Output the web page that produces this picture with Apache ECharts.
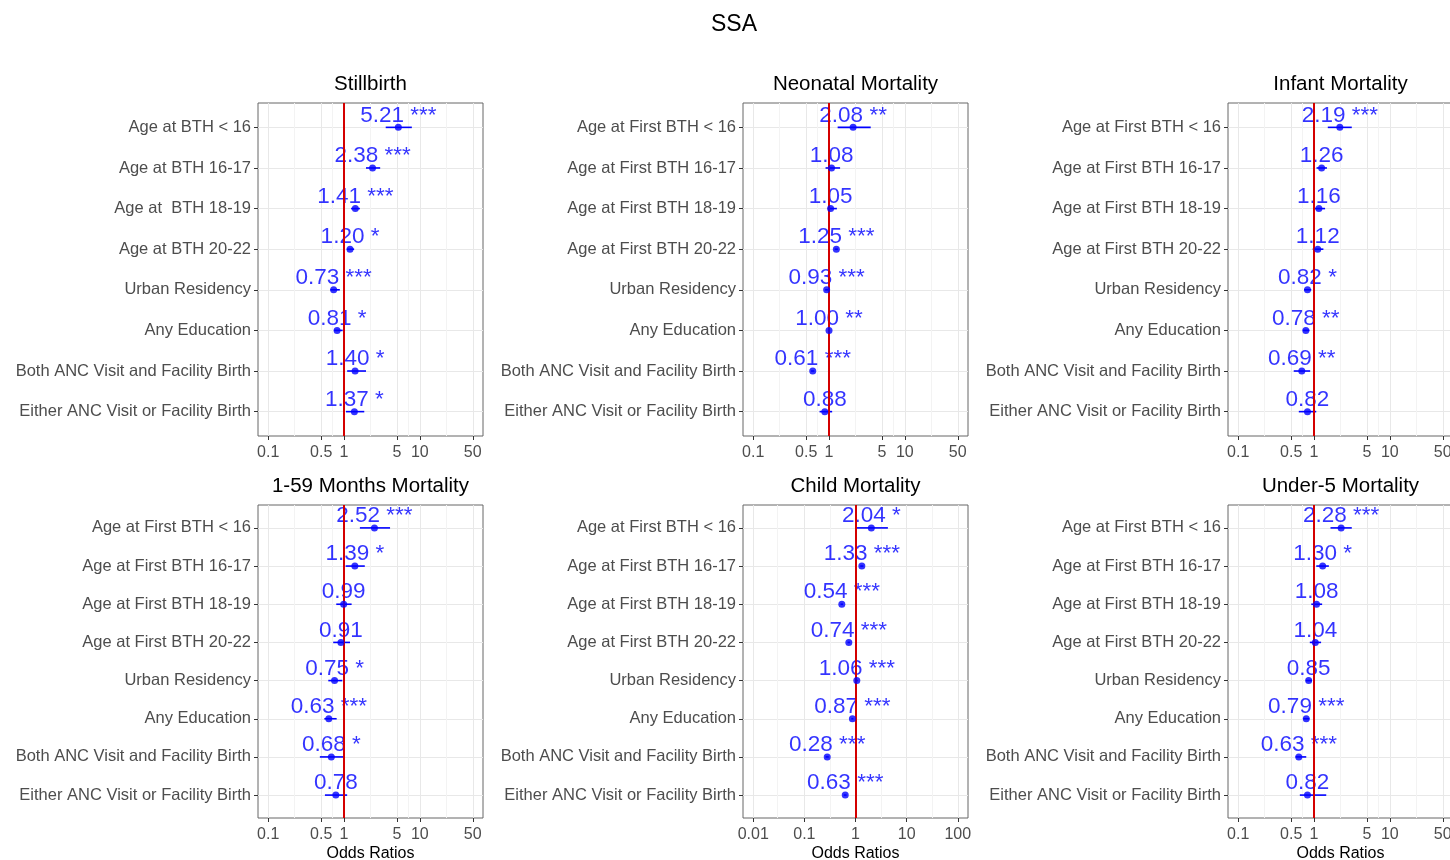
<!DOCTYPE html>
<html>
<head>
<meta charset="utf-8">
<script src="https://cdn.jsdelivr.net/npm/echarts@6/dist/echarts.min.js"></script>
<style>
html,body{margin:0;padding:0;background:#fff;}
#chart{width:1450px;height:860px;}
</style>
</head>
<body>
<div id="chart"></div>
<script>
// ---------- DATA ----------
const mainTitle = 'SSA';
const panelTitles = ['Stillbirth', 'Neonatal Mortality', 'Infant Mortality',
                     '1-59 Months Mortality', 'Child Mortality', 'Under-5 Mortality'];

const catsStillbirth = ['Age at BTH < 16', 'Age at BTH 16-17', 'Age at  BTH 18-19', 'Age at BTH 20-22',
  'Urban Residency', 'Any Education', 'Both ANC Visit and Facility Birth', 'Either ANC Visit or Facility Birth'];
const catsOther = ['Age at First BTH < 16', 'Age at First BTH 16-17', 'Age at First BTH 18-19', 'Age at First BTH 20-22',
  'Urban Residency', 'Any Education', 'Both ANC Visit and Facility Birth', 'Either ANC Visit or Facility Birth'];

const ticksA = ['0.1', '0.5', '1', '5', '10', '50'];
const ticksChild = ['0.01', '0.1', '1', '10', '100'];

// Stillbirth
const orStill = [5.21, 2.38, 1.41, 1.20, 0.73, 0.81, 1.40, 1.37];
const loStill = [3.55, 1.95, 1.24, 1.09, 0.66, 0.74, 1.10, 1.06];
const hiStill = [7.85, 3.00, 1.62, 1.36, 0.88, 0.96, 1.95, 1.85];
const sigStill = ['***', '***', '***', '*', '***', '*', '*', '*'];

// Neonatal
const orNeo = [2.08, 1.08, 1.05, 1.25, 0.93, 1.00, 0.61, 0.88];
const loNeo = [1.30, 0.90, 0.96, 1.19, 0.89, 0.97, 0.58, 0.75];
const hiNeo = [3.55, 1.40, 1.27, 1.31, 0.98, 1.03, 0.64, 1.10];
const sigNeo = ['**', '', '', '***', '***', '**', '***', ''];

// Infant
const orInf = [2.19, 1.26, 1.16, 1.12, 0.82, 0.78, 0.69, 0.82];
const loInf = [1.52, 1.08, 0.99, 0.96, 0.74, 0.71, 0.54, 0.63];
const hiInf = [3.15, 1.48, 1.40, 1.33, 0.92, 0.87, 0.89, 1.07];
const sigInf = ['***', '', '', '', '*', '**', '**', ''];

// 1-59 months
const orM159 = [2.52, 1.39, 0.99, 0.91, 0.75, 0.63, 0.68, 0.78];
const loM159 = [1.62, 1.05, 0.79, 0.72, 0.62, 0.55, 0.48, 0.56];
const hiM159 = [4.05, 1.88, 1.26, 1.20, 0.95, 0.80, 0.98, 1.10];
const sigM159 = ['***', '*', '', '', '*', '***', '*', ''];

// Child
const orChild = [2.04, 1.33, 0.54, 0.74, 1.06, 0.87, 0.28, 0.63];
const loChild = [1.03, 1.24, 0.51, 0.70, 1.01, 0.83, 0.26, 0.59];
const hiChild = [4.30, 1.43, 0.57, 0.78, 1.11, 0.91, 0.30, 0.67];
const sigChild = ['*', '***', '***', '***', '***', '***', '***', '***'];

// Under-5
const orU5 = [2.28, 1.30, 1.08, 1.04, 0.85, 0.79, 0.63, 0.82];
const loU5 = [1.65, 1.07, 0.92, 0.88, 0.78, 0.72, 0.57, 0.65];
const hiU5 = [3.15, 1.57, 1.28, 1.24, 0.94, 0.87, 0.79, 1.45];
const sigU5 = ['***', '*', '', '', '', '***', '***', ''];

// ---------- BUILD ----------
const panels = [
  {cats: catsStillbirth, or: orStill, lo: loStill, hi: hiStill, sig: sigStill, ticks: ticksA},
  {cats: catsOther, or: orNeo, lo: loNeo, hi: hiNeo, sig: sigNeo, ticks: ticksA},
  {cats: catsOther, or: orInf, lo: loInf, hi: hiInf, sig: sigInf, ticks: ticksA},
  {cats: catsOther, or: orM159, lo: loM159, hi: hiM159, sig: sigM159, ticks: ticksA},
  {cats: catsOther, or: orChild, lo: loChild, hi: hiChild, sig: sigChild, ticks: ticksChild},
  {cats: catsOther, or: orU5, lo: loU5, hi: hiU5, sig: sigU5, ticks: ticksA}
];

const FONT = '"Liberation Sans", Arial, Helvetica, sans-serif';
const colLeft = [258, 743, 1228];
const rowTop = [103, 505];
const rowH = [333, 313];
const gridW = 225;
const BLUE = '#0000ff';
const RED = '#d40000';

const grids = [], xAxes = [], yAxes = [], series = [], titles = [];

titles.push({text: mainTitle, left: 729, top: 8, textAlign: 'center',
  textStyle: {fontFamily: FONT, fontSize: 23, fontWeight: 'normal', color: '#000'}});

panels.forEach((p, i) => {
  const r = Math.floor(i / 3), c = i % 3;
  const left = colLeft[c], top = rowTop[r], h = rowH[r];
  grids.push({left: left, top: top, width: gridW, height: h, containLabel: false,
    outerBoundsMode: 'none', show: true, borderColor: '#666', borderWidth: 1, backgroundColor: '#fff'});
  titles.push({text: panelTitles[i], left: left + gridW / 2 - 5, top: top - 34, textAlign: 'center',
    textStyle: {fontFamily: FONT, fontSize: 20.5, fontWeight: 'normal', color: '#000'}});

  const tv = p.ticks.map(Number);
  const lmin = Math.log10(tv[0]), lmax = Math.log10(tv[tv.length - 1]);
  const pad = (lmax - lmin) * 0.05;
  // minor gridlines: midpoints (in log space) between majors, extended one step beyond
  const lt = tv.map(v => Math.log10(v));
  const step = lt[1] - lt[0];
  const ext = [lt[0] - step].concat(lt, [lt[lt.length - 1] + (lt[lt.length - 1] - lt[lt.length - 2])]);
  const minors = [];
  for (let k = 0; k < ext.length - 1; k++) {
    const m = (ext[k] + ext[k + 1]) / 2;
    if (m > lmin - pad && m < lmax + pad) minors.push(Math.pow(10, m));
  }

  xAxes.push({
    type: 'log', logBase: 10, gridIndex: i,
    min: Math.pow(10, lmin - pad), max: Math.pow(10, lmax + pad),
    axisLine: {show: false},
    axisTick: {show: true, customValues: tv, length: 4, lineStyle: {color: '#333'}},
    axisLabel: {customValues: tv, margin: 9, fontFamily: FONT, fontSize: 16, color: '#4d4d4d',
      formatter: v => String(parseFloat(Number(v).toPrecision(4)))},
    splitLine: {show: true, lineStyle: {color: '#e8e8e8', width: 1}},
    minorTick: {show: false}, minorSplitLine: {show: false},
    name: r === 1 ? 'Odds Ratios' : '', nameLocation: 'middle', nameGap: 28,
    nameTextStyle: {fontFamily: FONT, fontSize: 16, color: '#000'}
  });
  const pos = p.cats.map((_, k) => k + 1);
  yAxes.push({
    type: 'value', gridIndex: i, inverse: true, min: 0.4, max: p.cats.length + 0.6,
    axisLine: {show: false},
    axisTick: {show: true, customValues: pos, length: 4, lineStyle: {color: '#333'}},
    axisLabel: {customValues: pos, margin: 7, fontFamily: FONT, fontSize: 16.5, color: '#4d4d4d',
      formatter: v => p.cats[Math.round(v) - 1] || ''},
    splitLine: {show: true, lineStyle: {color: '#e8e8e8', width: 1}}
  });

  const pts = p.or.map((v, k) => [v, k + 1]);

  // minor vertical gridlines (background)
  series.push({
    type: 'scatter', xAxisIndex: i, yAxisIndex: i, z: 1, silent: true,
    symbolSize: 0, data: pts, itemStyle: {color: 'rgba(0,0,0,0)'},
    markLine: {z: 1, silent: true, symbol: ['none', 'none'], animation: false,
      label: {show: false}, lineStyle: {color: '#f3f3f3', width: 1, type: 'solid'},
      data: minors.map(m => ({xAxis: m}))}
  });
  // error bars
  series.push({
    type: 'custom', xAxisIndex: i, yAxisIndex: i, z: 2, silent: true,
    data: p.or.map((v, k) => [p.lo[k], p.hi[k], k + 1]),
    encode: {x: [0, 1], y: 2},
    renderItem: (params, api) => {
      const a = api.coord([api.value(0), api.value(2)]);
      const b = api.coord([api.value(1), api.value(2)]);
      return {type: 'line', shape: {x1: a[0], y1: a[1], x2: b[0], y2: b[1]},
        style: {stroke: BLUE, lineWidth: 1.6}};
    }
  });
  // value labels
  series.push({
    type: 'scatter', xAxisIndex: i, yAxisIndex: i, z: 3, silent: true,
    symbolSize: 7, data: pts, itemStyle: {color: 'rgba(0,0,0,0)'},
    label: {show: true, position: 'top', distance: -3, color: BLUE, fontFamily: FONT, fontSize: 22.5,
      formatter: d => {
        const s = p.sig[d.dataIndex];
        return d.value[0].toFixed(2) + (s ? ' ' + s : '');
      }}
  });
  // reference line at OR = 1
  series.push({
    type: 'scatter', xAxisIndex: i, yAxisIndex: i, z: 4, silent: true,
    symbolSize: 0, data: pts, itemStyle: {color: 'rgba(0,0,0,0)'},
    markLine: {z: 4, silent: true, symbol: ['none', 'none'], animation: false,
      label: {show: false}, lineStyle: {color: RED, width: 2, type: 'solid'},
      data: [{xAxis: 1}]}
  });
  // points
  series.push({
    type: 'scatter', xAxisIndex: i, yAxisIndex: i, z: 6, silent: true,
    symbolSize: 7, data: pts, itemStyle: {color: BLUE}
  });
});

const chart = echarts.init(document.getElementById('chart'), null, {renderer: 'canvas'});
chart.setOption({
  animation: false,
  backgroundColor: '#fff',
  title: titles,
  grid: grids,
  xAxis: xAxes,
  yAxis: yAxes,
  series: series
});
</script>
</body>
</html>
